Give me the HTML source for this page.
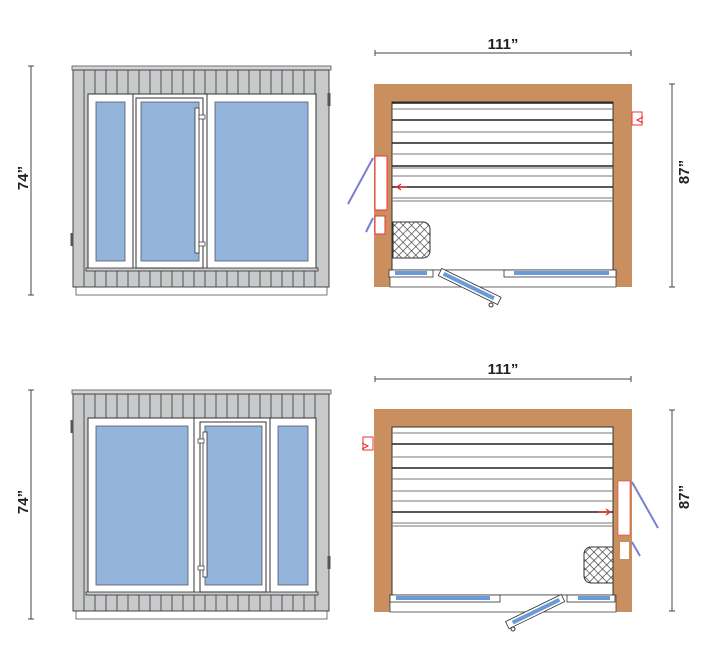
<!DOCTYPE html>
<html><head><style>
html,body{margin:0;padding:0;background:#fff;}
svg{display:block;}
text{font-family:"Liberation Sans",sans-serif;font-weight:bold;font-size:15px;fill:#222;}
</style></head><body>
<svg id="s" width="707" height="648" viewBox="0 0 707 648" xmlns="http://www.w3.org/2000/svg">
<defs>
<pattern id="mesh" width="6" height="6" patternUnits="userSpaceOnUse" patternTransform="rotate(45)">
<rect width="6" height="6" fill="#fff"/><path d="M0 0H6M0 0V6" stroke="#333" stroke-width="1.3"/>
</pattern>
</defs>
<line x1="31" y1="66" x2="31" y2="295" stroke="#444"/>
<line x1="28" y1="66" x2="34" y2="66" stroke="#444"/><line x1="28" y1="295" x2="34" y2="295" stroke="#444"/>
<text transform="translate(28,178) rotate(-90)" text-anchor="middle">74”</text>
<line x1="31" y1="390" x2="31" y2="619" stroke="#444"/>
<line x1="28" y1="390" x2="34" y2="390" stroke="#444"/><line x1="28" y1="619" x2="34" y2="619" stroke="#444"/>
<text transform="translate(28,502) rotate(-90)" text-anchor="middle">74”</text>
<line x1="375" y1="53" x2="631" y2="53" stroke="#444"/>
<line x1="375" y1="50" x2="375" y2="56" stroke="#444"/><line x1="631" y1="50" x2="631" y2="56" stroke="#444"/>
<text x="503" y="49" text-anchor="middle">111”</text>
<line x1="672" y1="84" x2="672" y2="287" stroke="#444"/>
<line x1="669" y1="84" x2="675" y2="84" stroke="#444"/><line x1="669" y1="287" x2="675" y2="287" stroke="#444"/>
<text transform="translate(689,172) rotate(-90)" text-anchor="middle">87”</text>
<line x1="375" y1="379" x2="631" y2="379" stroke="#444"/>
<line x1="375" y1="376" x2="375" y2="382" stroke="#444"/><line x1="631" y1="376" x2="631" y2="382" stroke="#444"/>
<text x="503" y="374" text-anchor="middle">111”</text>
<line x1="672" y1="410" x2="672" y2="611" stroke="#444"/>
<line x1="669" y1="410" x2="675" y2="410" stroke="#444"/><line x1="669" y1="611" x2="675" y2="611" stroke="#444"/>
<text transform="translate(689,497) rotate(-90)" text-anchor="middle">87”</text>
<g id="g"></g>
</svg>
<script>
var g=document.getElementById('g'),h='';
function front(oy,mir){
 h+='<rect x="76" y="'+(oy+287)+'" width="251" height="8" fill="#fff" stroke="#555" stroke-width="0.8"/>';
 h+='<rect x="73" y="'+(oy+70)+'" width="256" height="217" fill="#c8c9cb" stroke="#444" stroke-width="1"/>';
 h+='<rect x="72" y="'+(oy+66)+'" width="259" height="4" fill="#d4d5d7" stroke="#555" stroke-width="0.8"/>';
 for(var x=84;x<322;x+=11){h+='<line x1="'+x+'" y1="'+(oy+70)+'" x2="'+x+'" y2="'+(oy+287)+'" stroke="#444" stroke-width="0.9"/>';}
 h+='<line x1="73" y1="'+(oy+70)+'" x2="329" y2="'+(oy+70)+'" stroke="#444"/>';
 h+='<rect x="88" y="'+(oy+94)+'" width="228" height="175" fill="#fff" stroke="#333" stroke-width="1"/>';
 h+='<rect x="86" y="'+(oy+268)+'" width="232" height="3" fill="#ccc" stroke="#333" stroke-width="0.8"/>';
 var P=mir?[[96,92],[205,57],[278,30]]:[[96,29],[141,58],[215,93]];
 var D=mir?[200,66]:[136,67];
 var ox=mir?[194,270]:[133,207];
 h+='<line x1="'+ox[0]+'" y1="'+(oy+94)+'" x2="'+ox[0]+'" y2="'+(oy+268)+'" stroke="#333"/>';
 h+='<line x1="'+ox[1]+'" y1="'+(oy+94)+'" x2="'+ox[1]+'" y2="'+(oy+268)+'" stroke="#333"/>';
 h+='<rect x="'+D[0]+'" y="'+(oy+98)+'" width="'+D[1]+'" height="170" fill="none" stroke="#333"/>';
 P.forEach(function(p){h+='<rect x="'+p[0]+'" y="'+(oy+102)+'" width="'+p[1]+'" height="159" fill="#93b5dc" stroke="#556" stroke-width="0.8"/>';});
 var hx=mir?203:195;
 h+='<rect x="'+hx+'" y="'+(oy+108)+'" width="4" height="145" fill="#fff" stroke="#333" stroke-width="0.8"/>';
 var bx=mir?198:199;
 h+='<rect x="'+bx+'" y="'+(oy+115)+'" width="6" height="4" fill="#fff" stroke="#333" stroke-width="0.7"/>';
 h+='<rect x="'+bx+'" y="'+(oy+242)+'" width="6" height="4" fill="#fff" stroke="#333" stroke-width="0.7"/>';
}
front(0,false);front(324,true);
function vent(x,y){h+='<rect x="'+(x-1.5)+'" y="'+y+'" width="3" height="13" fill="#555"/>';}
vent(329,93);vent(72,233);vent(72,420);vent(329,556);
function plan(oy,mir,lines){
 h+='<rect x="374" y="'+oy+'" width="258" height="203" fill="#c98f5f"/>';
 h+='<rect x="392" y="'+(oy+18)+'" width="221" height="168" fill="#fff" stroke="#333" stroke-width="1"/>';
 h+='<rect x="390" y="'+(oy+186)+'" width="226" height="17" fill="#fff" stroke="#444" stroke-width="0.8"/>';
 lines.forEach(function(l){h+='<line x1="392" y1="'+l[0]+'" x2="613" y2="'+l[0]+'" stroke="'+(l[1]?'#222':'#777')+'" stroke-width="'+(l[1]?1.6:1)+'"/>';});
}
plan(84,false,[[103,1],[109,0],[120,1],[132,0],[143,1],[154,0],[166,1],[168,0],[176,0],[187,1],[198,0],[201,0]]);
plan(409,true,[[433,0],[444,1],[457,0],[468,1],[479,0],[491,0],[501,0],[512,1],[523,0],[526,0]]);
h+='<rect x="375" y="156" width="12" height="54" fill="#fff" stroke="#e33"/>';
h+='<rect x="375" y="216" width="10" height="18" fill="#fff" stroke="#e33"/>';
h+='<line x1="373" y1="158" x2="348" y2="204" stroke="#7b7fd0" stroke-width="2"/>';
h+='<line x1="373" y1="218" x2="366" y2="232" stroke="#7b7fd0" stroke-width="2"/>';
h+='<path d="M393 222h30a7 7 0 0 1 7 7v22a7 7 0 0 1 -7 7h-30z" fill="url(#mesh)" stroke="#333"/>';
h+='<path d="M407 187l-8 0M401 184l-4 3 4 3" stroke="#e22" stroke-width="1.2" fill="none"/>';
h+='<rect x="632" y="112" width="10" height="13" fill="#fff" stroke="#e33"/><path d="M643 117l-6 3 6 3" stroke="#e22" fill="none"/>';
h+='<rect x="389" y="270" width="44" height="7" fill="#fff" stroke="#333" stroke-width="0.8"/><rect x="395" y="271" width="32" height="4" fill="#6a9ad8"/>';
h+='<rect x="504" y="270" width="112" height="7" fill="#fff" stroke="#333" stroke-width="0.8"/><rect x="514" y="271" width="95" height="4" fill="#6a9ad8"/>';
h+='<g transform="translate(440,272) rotate(26)"><rect x="0" y="-4" width="66" height="8" fill="#fff" stroke="#333" stroke-width="0.8"/><rect x="4" y="-2" width="56" height="4" fill="#6a9ad8"/></g>';
h+='<circle cx="491" cy="305" r="2" fill="none" stroke="#333"/>';
h+='<rect x="618" y="481" width="12" height="54" fill="#fff" stroke="#e33" stroke-width="0.6"/>';
h+='<rect x="620" y="542" width="9" height="17" fill="#fff"/>';
h+='<line x1="632" y1="482" x2="658" y2="528" stroke="#7b7fd0" stroke-width="2"/>';
h+='<line x1="632" y1="542" x2="640" y2="556" stroke="#7b7fd0" stroke-width="2"/>';
h+='<path d="M613 547h-22a7 7 0 0 0 -7 7v22a7 7 0 0 0 7 7h22z" fill="url(#mesh)" stroke="#333"/>';
h+='<path d="M598 512l12 0M606 509l4 3 -4 3" stroke="#e22" stroke-width="1.2" fill="none"/>';
h+='<rect x="363" y="437" width="10" height="13" fill="#fff" stroke="#e33"/><path d="M362 443l6 3 -6 3" stroke="#e22" fill="none"/>';
h+='<rect x="390" y="595" width="110" height="7" fill="#fff" stroke="#333" stroke-width="0.8"/><rect x="396" y="596" width="94" height="4" fill="#6a9ad8"/>';
h+='<rect x="567" y="595" width="48" height="7" fill="#fff" stroke="#333" stroke-width="0.8"/><rect x="578" y="596" width="32" height="4" fill="#6a9ad8"/>';
h+='<g transform="translate(563,598) rotate(154)"><rect x="0" y="-4" width="62" height="8" fill="#fff" stroke="#333" stroke-width="0.8"/><rect x="4" y="-2" width="52" height="4" fill="#6a9ad8"/></g>';
h+='<circle cx="513" cy="629" r="2" fill="none" stroke="#333"/>';
g.innerHTML=h;
</script>
</body></html>
